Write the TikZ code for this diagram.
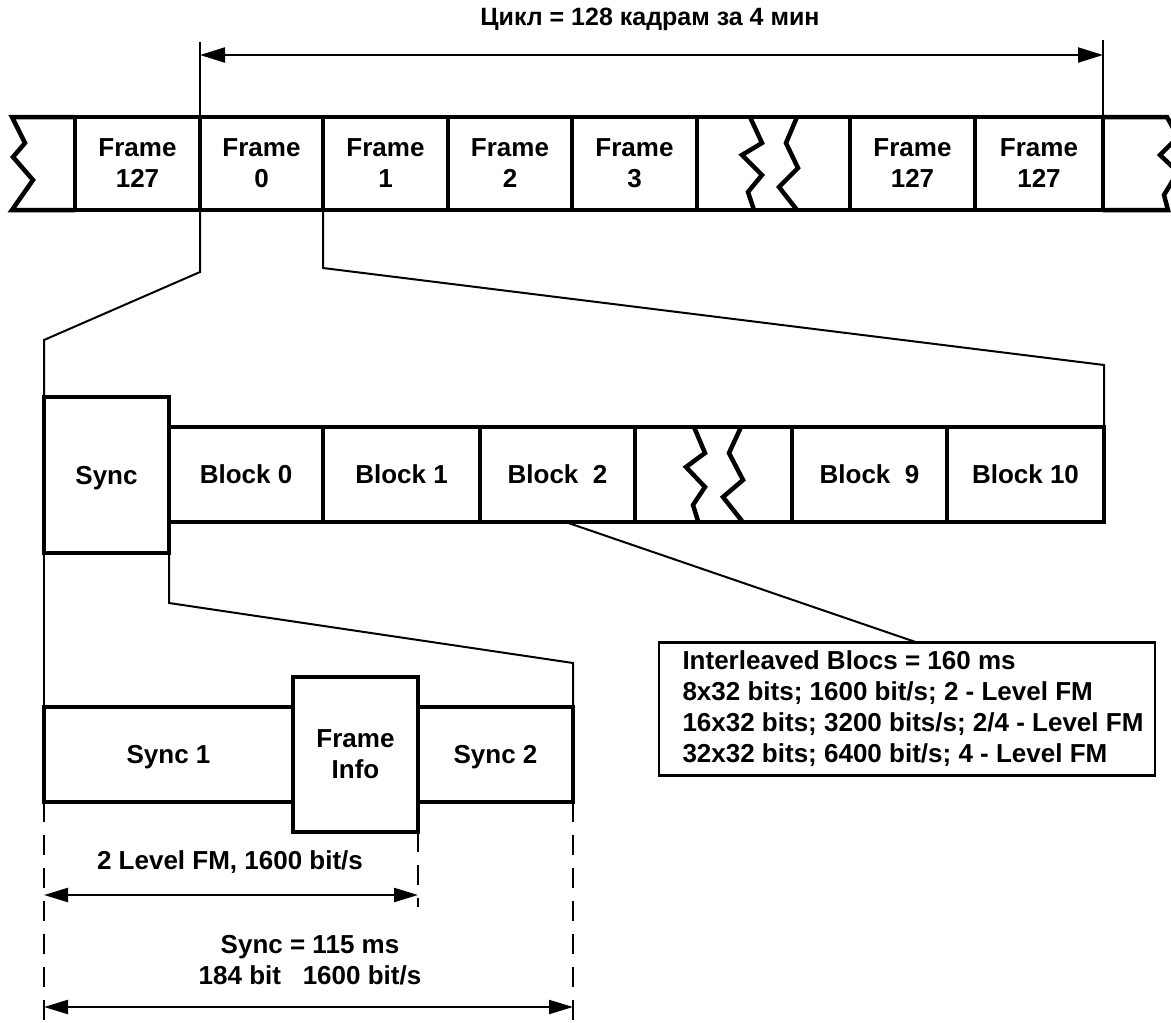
\documentclass[tikz,border=0pt]{standalone}
\usepackage{fontspec}
\setmainfont{Liberation Sans}
\usetikzlibrary{arrows.meta,calc}
\begin{document}
\begin{tikzpicture}[x=1pt,y=-1pt,
  every node/.style={font=\fontsize{26}{31}\selectfont\bfseries, inner sep=0pt, outer sep=0pt},
  cell/.style={draw, line width=4.5pt, rectangle, align=center, minimum height=93pt},
  blk/.style={draw, line width=4.5pt, rectangle, align=center, minimum height=95pt, text depth=0pt},
  thickline/.style={line width=4.5pt},
  conn/.style={line width=2pt},
  ext/.style={line width=1.6pt},
  dim/.style={line width=2.2pt, {Triangle[length=24pt,width=14pt]}-{Triangle[length=24pt,width=14pt]}},
  dashline/.style={line width=2.2pt, dash pattern=on 20pt off 13pt}
]
\path[use as bounding box, clip] (0,0) rectangle (1171,1023);
\fill[white] (0,0) rectangle (1171,1023);

% title and cycle arrow
\node[font=\fontsize{25}{31}\selectfont\bfseries] (title) at (650,19) {Цикл = 128 кадрам за 4 мин};

% top row of frames
\node[cell, minimum width=125pt] (f127a) at (137.5,163.5) {Frame\\127};
\node[cell, minimum width=123pt] (f0) at (261.5,163.5) {Frame\\0};
\node[cell, minimum width=125pt] (f1) at (385.5,163.5) {Frame\\1};
\node[cell, minimum width=124pt] (f2) at (510,163.5) {Frame\\2};
\node[cell, minimum width=125pt] (f3) at (634.5,163.5) {Frame\\3};
\node[cell, minimum width=153pt] (fgap) at (773.5,163.5) {};
\node[cell, minimum width=125pt] (f127b) at (912.5,163.5) {Frame\\127};
\node[cell, minimum width=128pt] (f127c) at (1039,163.5) {Frame\\127};

% open ends of the top row
\draw[thickline] (f127a.north west) -- (12,117) -- (25,143) -- (13,157) -- (33,180) -- (12,210) -- (f127a.south west);
\draw[thickline] (f127c.north east) -- (1167,117) -- (1178,137) -- (1160,155) -- (1178,172) -- (1164,195) -- (1168,210) -- (f127c.south east);
% breaks in the top row
\draw[thickline] (750,117) -- (762,143) -- (742,155) -- (762,175) -- (748,192) -- (754,210);
\draw[thickline] (797,117) -- (786,143) -- (798,168) -- (779,187) -- (797,210);

% cycle dimension
\coordinate (tA) at (200,55);
\coordinate (tB) at (1103,55);
\draw[ext] (f0.north west) -- (200,42);
\draw[ext] (f127c.north east) -- (1103,40);
\draw[dim, {Triangle[length=25pt,width=15pt]}-{Triangle[length=25pt,width=15pt]}] (tA) -- (tB);

% block row
\node[blk, minimum width=125pt, minimum height=156pt] (sync) at (106.5,475) {Sync};
\node[blk, minimum width=154pt] (b0) at (246,474.5) {Block 0};
\node[blk, minimum width=157pt] (b1) at (401.5,474.5) {Block 1};
\node[blk, minimum width=155pt] (b2) at (557.5,474.5) {Block\ \ 2};
\node[blk, minimum width=157pt] (bgap) at (713.5,474.5) {};
\node[blk, minimum width=155pt] (b9) at (869.5,474.5) {Block\ \ 9};
\node[blk, minimum width=157pt] (b10) at (1025.5,474.5) {Block 10};
\draw[thickline] (694,427) -- (705,453) -- (686,467) -- (705,487) -- (693,505) -- (698,521);
\draw[thickline] (741,427) -- (729,453) -- (743,480) -- (723,497) -- (742,521);

% info box
\node[draw, line width=2.6pt, rectangle, minimum width=496pt, minimum height=133pt, align=left] (info) at (907,709)
  {\hspace*{12pt}Interleaved Blocs = 160 ms\\\hspace*{12pt}8x32 bits; 1600 bit/s; 2 - Level FM\\\hspace*{12pt}16x32 bits; 3200 bits/s; 2/4 - Level FM\\\hspace*{12pt}32x32 bits; 6400 bit/s; 4 - Level FM};

% sync row
\node[blk, minimum width=249pt] (s1) at (168.5,754.5) {Sync 1};
\node[blk, minimum width=155pt] (s2) at (495.5,754.5) {Sync 2};
\node[draw, line width=4.5pt, rectangle, minimum width=125pt, minimum height=155pt, align=center, fill=white] (fi) at (355.5,754.5) {Frame\\Info};

% zoom connectors
\draw[conn] (f0.south west) -- (200,272) -- (44,340) -- (sync.north west);
\draw[conn] (f1.south west) -- (323,268) -- (1104,365) -- (b10.north east);
\draw[conn] (sync.south west) -- (s1.north west);
\draw[conn] (sync.south east) -- (169,603) -- (573,663) -- (s2.north east);
\draw[conn] ($(b2.south)+(8,0)$) -- ($(info.north)+(10,0)$);

% dimension lines at the bottom
\draw[dashline] (s1.south west) -- (44,1030);
\draw[dashline] (fi.south east) -- (418,907);
\draw[dashline] (s2.south east) -- (573,1030);
\coordinate (d1a) at (44,895);
\coordinate (d1b) at (418,895);
\coordinate (d2a) at (44,1007);
\coordinate (d2b) at (573,1007);
\draw[dim] (d1a) -- (d1b);
\draw[dim] (d2a) -- (d2b);
\node (lev) at (230,862) {2 Level FM, 1600 bit/s};
\node[align=center] (syn) at (310,960) {Sync = 115 ms\\184 bit\ \ \ 1600 bit/s};
\end{tikzpicture}
\end{document}
